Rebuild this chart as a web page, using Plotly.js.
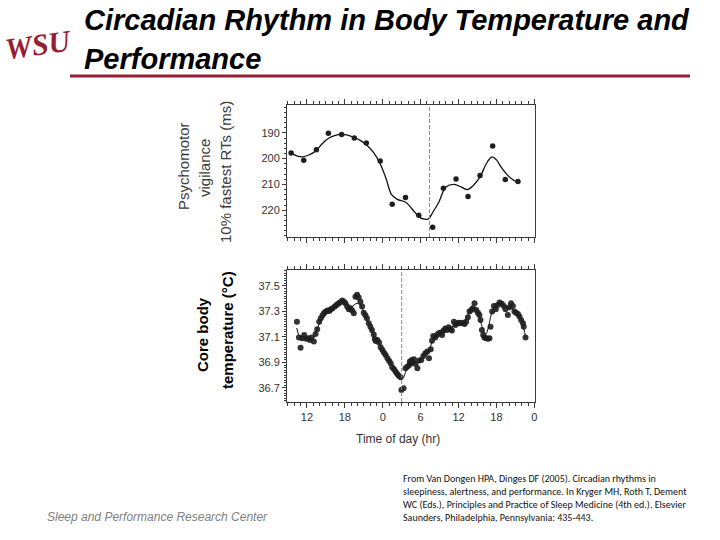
<!DOCTYPE html>
<html>
<head>
<meta charset="utf-8">
<script src="https://cdn.plot.ly/plotly-3.0.1.min.js"></script>
<style>
  html, body { margin: 0; padding: 0; background: #fff; }
  #chart { width: 720px; height: 540px; }
</style>
</head>
<body>
<div id="chart"></div>
<script>
// hours are counted from midnight of day 1 (so 24 = 0h next day, 48 = 0h day after)
const hourTicks = [12, 18, 24, 30, 36, 42, 48];
const hourLabels = ['12', '18', '0', '6', '12', '18', '0'];

// psychomotor vigilance, 10% fastest RTs (ms)
const rtHours = [9.5, 11.5, 13.5, 15.4, 17.5, 19.5, 21.4, 23.6, 25.5, 27.6, 29.7, 31.9, 33.6, 35.6, 37.5, 39.4, 41.4, 43.4, 45.4];
const rtValues = [197.8, 200.6, 196.6, 190.2, 190.6, 192.0, 193.9, 200.9, 217.7, 215.1, 222.0, 226.6, 211.5, 207.9, 214.7, 206.5, 195.1, 208.1, 208.9];
const rtFitHours = [9.4, 10.5, 11.3, 12.3, 13.5, 14.5, 15.5, 16.5, 17.3, 18.3, 19.5, 20.5, 21.5, 22.5, 23.5, 24.5, 25.4, 26.3, 27.7, 28.8, 29.8, 30.6, 31.2, 32.0, 32.9, 34.0, 35.3, 36.4, 37.4, 38.3, 39.4, 40.5, 41.3, 42.0, 42.8, 43.6, 44.5, 45.4];
const rtFitValues = [197.8, 199.0, 199.3, 198.6, 196.8, 194.0, 192.0, 191.0, 190.6, 190.8, 191.8, 193.0, 194.8, 197.5, 201.5, 207.5, 214.0, 215.8, 217.0, 220.0, 222.7, 223.5, 223.4, 220.5, 216.8, 211.0, 210.0, 211.0, 212.0, 210.5, 207.1, 201.5, 199.3, 200.5, 203.5, 206.0, 208.0, 209.3];

// core body temperature (deg C)
const tempHours = [10.42, 10.74, 11.0, 11.26, 11.58, 11.9, 12.2, 12.5, 12.7, 13.1, 13.37, 13.63, 13.95, 14.2, 14.47, 14.74, 15.0, 15.26, 15.53, 15.79, 16.05, 16.42, 16.68, 16.95, 17.21, 17.58, 17.84, 18.1, 18.37, 18.63, 18.9, 19.16, 19.42, 19.68, 19.95, 20.2, 20.47, 20.74, 21.0, 21.26, 21.5, 21.79, 22.05, 22.3, 22.58, 22.74, 22.9, 23.16, 23.42, 23.68, 23.95, 24.2, 24.47, 24.74, 25.0, 25.26, 25.5, 25.79, 26.05, 26.3, 26.58, 26.84, 26.95, 27.3, 27.6, 27.9, 28.2, 28.3, 28.43, 28.6, 28.74, 28.95, 29.2, 29.48, 29.8, 30.1, 30.43, 30.74, 31.06, 31.32, 31.6, 31.8, 32.0, 32.3, 32.6, 32.85, 33.2, 33.4, 33.64, 33.9, 34.16, 34.43, 34.7, 34.95, 35.27, 35.5, 35.8, 36.06, 36.32, 36.64, 36.95, 37.2, 37.48, 37.74, 38.0, 38.27, 38.53, 38.8, 39.06, 39.3, 39.48, 39.7, 39.9, 40.1, 40.37, 40.64, 40.9, 41.06, 41.32, 41.6, 41.9, 42.2, 42.5, 42.85, 43.16, 43.43, 43.8, 44.06, 44.3, 44.6, 44.85, 45.1, 45.4, 45.64, 45.9, 46.2, 46.32, 46.6];
const tempValues = [37.22, 37.095, 37.016, 37.09, 37.116, 37.085, 37.09, 37.077, 37.095, 37.064, 37.124, 37.16, 37.22, 37.246, 37.27, 37.29, 37.3, 37.307, 37.304, 37.317, 37.325, 37.338, 37.35, 37.36, 37.37, 37.385, 37.377, 37.364, 37.338, 37.317, 37.325, 37.307, 37.286, 37.416, 37.43, 37.41, 37.377, 37.338, 37.29, 37.27, 37.246, 37.207, 37.18, 37.155, 37.12, 37.084, 37.069, 37.077, 37.056, 37.02, 36.998, 36.977, 36.959, 36.933, 36.914, 36.894, 36.862, 36.846, 36.828, 36.81, 36.794, 36.784, 36.684, 36.697, 36.854, 36.867, 36.88, 36.907, 36.893, 36.92, 36.899, 36.925, 36.888, 36.854, 36.915, 36.92, 36.951, 36.972, 36.985, 36.933, 37.003, 37.071, 37.108, 37.095, 37.116, 37.129, 37.134, 37.116, 37.15, 37.166, 37.155, 37.176, 37.16, 37.15, 37.22, 37.194, 37.207, 37.212, 37.207, 37.212, 37.202, 37.22, 37.254, 37.3, 37.312, 37.325, 37.364, 37.312, 37.29, 37.273, 37.233, 37.155, 37.116, 37.095, 37.09, 37.085, 37.09, 37.18, 37.3, 37.343, 37.317, 37.35, 37.37, 37.36, 37.343, 37.317, 37.273, 37.333, 37.364, 37.343, 37.3, 37.29, 37.28, 37.26, 37.233, 37.207, 37.18, 37.095];
const tempFitHours = [10.4, 10.8, 11.5, 12.3, 13.0, 13.5, 14.0, 14.7, 15.5, 16.3, 17.0, 17.7, 18.2, 18.7, 19.2, 19.7, 20.2, 20.7, 21.2, 22.0, 22.8, 23.5, 24.3, 25.0, 25.8, 26.5, 27.0, 27.3, 27.7, 28.5, 29.5, 30.5, 31.3, 31.9, 32.8, 33.8, 34.8, 35.8, 36.8, 37.4, 38.0, 38.6, 39.1, 39.6, 40.0, 40.3, 40.7, 41.2, 41.8, 42.5, 43.3, 44.2, 45.0, 45.6, 46.1, 46.6];
const tempFitValues = [37.17, 37.11, 37.095, 37.085, 37.085, 37.14, 37.21, 37.26, 37.295, 37.325, 37.355, 37.38, 37.36, 37.335, 37.34, 37.36, 37.36, 37.33, 37.27, 37.185, 37.09, 37.04, 36.97, 36.915, 36.85, 36.8, 36.78, 36.785, 36.835, 36.885, 36.905, 36.95, 36.99, 37.07, 37.115, 37.145, 37.175, 37.2, 37.215, 37.255, 37.31, 37.33, 37.29, 37.2, 37.14, 37.12, 37.17, 37.28, 37.34, 37.36, 37.345, 37.33, 37.3, 37.265, 37.21, 37.1];

const rtTicks = [190, 200, 210, 220];
const tempTicks = [36.7, 36.9, 37.1, 37.3, 37.5];

// dashed markers at the temperature / performance minima
const rtNadirHour = 31.4;
const tempNadirHour = 27.0;

// pixel -> paper helpers (page is 720x540, no margins)
const W = 720, H = 540;
const px = x => x / W;
const py = y => 1 - y / H;

const axisColor = '#3a3a3a';
const dotColor = '#1e1e1e';
const tickFont = { family: 'Liberation Sans, Arial, sans-serif', size: 11, color: '#333' };

function xAxis(anchor, showLabels) {
    return {
        anchor: anchor,
        domain: [px(287), px(535)],
        range: [8.85, 48.1],
        tickmode: 'array',
        tickvals: hourTicks,
        ticktext: hourLabels,
        showticklabels: showLabels,
        tickfont: tickFont,
        ticks: 'outside', ticklen: 5, tickwidth: 1, tickcolor: axisColor,
        minor: { tickmode: 'linear', tick0: 0, dtick: 1, ticks: 'outside', ticklen: 3, tickcolor: axisColor },
        showline: true, linecolor: axisColor, linewidth: 1, mirror: 'ticks',
        showgrid: false, zeroline: false, fixedrange: true
    };
}

function yAxis(anchor, domain, range, vals, minorStep, fmt) {
    return {
        anchor: anchor,
        domain: domain,
        range: range,
        tickmode: 'array',
        tickvals: vals,
        ticktext: vals.map(fmt),
        tickfont: tickFont,
        ticks: 'outside', ticklen: 4, tickwidth: 1, tickcolor: axisColor,
        minor: { tickmode: 'linear', tick0: 0, dtick: minorStep, ticks: 'outside', ticklen: 2, tickcolor: axisColor },
        showline: true, linecolor: axisColor, linewidth: 1, mirror: true,
        showgrid: false, zeroline: false, fixedrange: true
    };
}

const traces = [
    { x: rtFitHours, y: rtFitValues, xaxis: 'x', yaxis: 'y', type: 'scatter', mode: 'lines',
      line: { color: '#111', width: 1.3, shape: 'spline', smoothing: 1 }, hoverinfo: 'skip' },
    { x: rtHours, y: rtValues, xaxis: 'x', yaxis: 'y', type: 'scatter', mode: 'markers',
      marker: { color: dotColor, size: 5.5 } },
    { x: tempFitHours, y: tempFitValues, xaxis: 'x2', yaxis: 'y2', type: 'scatter', mode: 'lines',
      line: { color: '#111', width: 1, shape: 'spline', smoothing: 1 }, hoverinfo: 'skip' },
    { x: tempHours, y: tempValues, xaxis: 'x2', yaxis: 'y2', type: 'scatter', mode: 'markers',
      marker: { color: dotColor, size: 6, opacity: 0.9 } }
];

const maroon = '#981e32';
const titleFont = { family: 'Liberation Sans, Arial, sans-serif', size: 29, color: '#000' };
const labelFont = { family: 'Liberation Sans, Arial, sans-serif', size: 15, color: '#3c3c3c' };
const boldLabelFont = { family: 'Liberation Sans, Arial, sans-serif', size: 15, color: '#000' };

function note(text, x, y, font, extra) {
    return Object.assign({
        text: text, xref: 'paper', yref: 'paper', x: px(x), y: py(y),
        xanchor: 'center', yanchor: 'middle', showarrow: false, font: font
    }, extra || {});
}

const annotations = [
    note('<b><i>WSU</i></b>', 38, 44, { family: 'Liberation Serif, serif', size: 30, color: maroon }, { textangle: -8 }),
    note('<b><i>Circadian Rhythm in Body Temperature and</i></b>', 82, 20, titleFont, { xanchor: 'left' }),
    note('<b><i>Performance</i></b>', 82, 59, titleFont, { xanchor: 'left' }),

    note('Psychomotor', 184, 166, labelFont, { textangle: -90 }),
    note('vigilance', 204, 168, labelFont, { textangle: -90 }),
    note('10% fastest RTs (ms)', 225, 172, labelFont, { textangle: -90 }),
    note('<b>Core body</b>', 202, 335, boldLabelFont, { textangle: -90 }),
    note('<b>temperature (°C)</b>', 227, 330, boldLabelFont, { textangle: -90 }),

    note('Time of day (hr)', 398, 439, { family: 'Liberation Sans, Arial, sans-serif', size: 12, color: '#333' }),

    note('<i>Sleep and Performance Research Center</i>', 45, 517,
         { family: 'Liberation Sans, Arial, sans-serif', size: 12, color: '#808080' }, { xanchor: 'left' }),

    note('From Van Dongen HPA, Dinges DF (2005). Circadian rhythms in<br>' +
         'sleepiness, alertness, and performance. In Kryger MH, Roth T, Dement<br>' +
         'WC (Eds.), Principles and Practice of Sleep Medicine (4th ed.). Elsevier<br>' +
         'Saunders, Philadelphia, Pennsylvania: 435-443.',
         401, 498, { family: 'Carlito, Liberation Sans Narrow, Liberation Sans, sans-serif', size: 10, color: '#111' },
         { xanchor: 'left', align: 'left' })
];

const shapes = [
    // maroon rule under the title
    { type: 'line', xref: 'paper', yref: 'paper', x0: px(70), x1: px(690), y0: py(76), y1: py(76),
      line: { color: maroon, width: 3 } },
    // dashed reference lines
    { type: 'line', xref: 'x', yref: 'y domain', x0: rtNadirHour, x1: rtNadirHour, y0: 0, y1: 1,
      line: { color: '#8a8a8a', width: 1, dash: '4px,2px' } },
    { type: 'line', xref: 'x2', yref: 'y2 domain', x0: tempNadirHour, x1: tempNadirHour, y0: 0, y1: 1,
      line: { color: '#8a8a8a', width: 1, dash: '4px,2px' } }
];

const layout = {
    width: W, height: H,
    margin: { l: 0, r: 0, t: 0, b: 0 },
    paper_bgcolor: '#fff', plot_bgcolor: '#fff',
    showlegend: false,
    font: { family: 'Liberation Sans, Arial, sans-serif', color: '#333' },
    xaxis: xAxis('y', false),
    yaxis: yAxis('x', [py(237), py(105)], [230.4, 179.2], rtTicks, 2, v => String(v)),
    xaxis2: xAxis('y2', true),
    yaxis2: yAxis('x2', [py(402), py(270)], [36.59, 37.625], tempTicks, 0.02, v => v.toFixed(1)),
    annotations: annotations,
    shapes: shapes
};

Plotly.newPlot('chart', traces, layout, { displayModeBar: false, staticPlot: true });
</script>
</body>
</html>
